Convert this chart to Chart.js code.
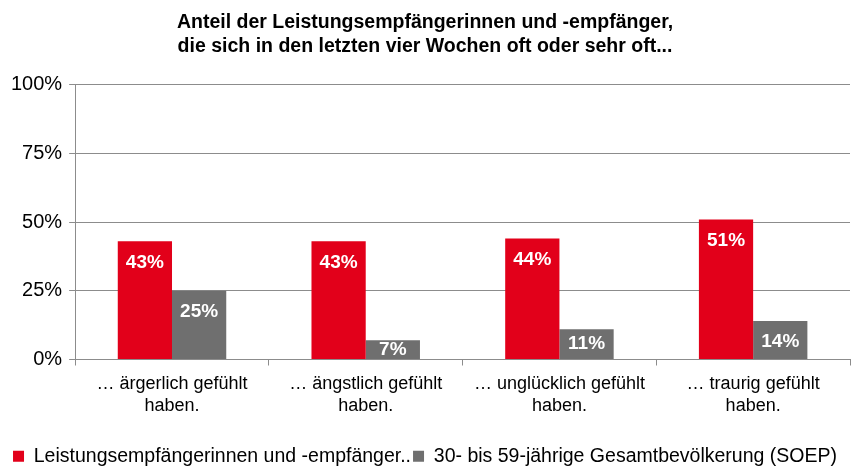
<!DOCTYPE html>
<html>
<head>
<meta charset="utf-8">
<script src="https://cdn.jsdelivr.net/npm/chart.js@4"></script>
<style>
  html, body { margin: 0; padding: 0; background: #fff; }
  #wrap { width: 853px; height: 466px; }
</style>
</head>
<body>
<div id="wrap"><canvas id="myChart"></canvas></div>
<script>
var categories = [
  ["… ärgerlich gefühlt", "haben."],
  ["… ängstlich gefühlt", "haben."],
  ["… unglücklich gefühlt", "haben."],
  ["… traurig gefühlt", "haben."]
];
var leistung = [43, 43, 44, 51];
var soep = [25, 7, 11, 14];
var yTicks = [0, 25, 50, 75, 100];

var FONT = "'Liberation Sans', Arial, sans-serif";

// white value labels inside the top of each bar (kept inside short bars)
var barLabels = {
  id: "barLabels",
  afterDatasetsDraw: function (chart) {
    var ctx = chart.ctx;
    ctx.save();
    ctx.fillStyle = "#fff";
    ctx.font = "bold 19px " + FONT;
    ctx.textAlign = "center";
    ctx.textBaseline = "middle";
    chart.data.datasets.forEach(function (ds, i) {
      chart.getDatasetMeta(i).data.forEach(function (bar, j) {
        var mid = (bar.y + bar.base) / 2;
        var y = Math.min(bar.y + 21, Math.max(bar.base - 17, mid));
        ctx.fillText(ds.data[j] + "%", bar.x, y);
      });
    });
    ctx.restore();
  }
};

var ctx = document.getElementById("myChart").getContext("2d");
var myChart = new Chart(ctx, {
  type: "bar",
  data: {
    labels: categories,
    datasets: [
      {
        label: "Leistungsempfängerinnen und -empfänger..",
        data: leistung,
        backgroundColor: "#e2001a",
        barPercentage: 1.0,
        categoryPercentage: 0.56
      },
      {
        label: "30- bis 59-jährige Gesamtbevölkerung (SOEP)",
        data: soep,
        backgroundColor: "#6f6f6f",
        barPercentage: 1.0,
        categoryPercentage: 0.56
      }
    ]
  },
  options: {
    responsive: true,
    maintainAspectRatio: false,
    animation: false,
    layout: { padding: { left: 0, right: 3, top: 0, bottom: -10 } },
    scales: {
      y: {
        min: 0,
        max: 100,
        afterBuildTicks: function (axis) {
          axis.ticks = yTicks.map(function (v) { return { value: v }; });
        },
        ticks: {
          color: "#000",
          font: { family: FONT, size: 20 },
          padding: 7,
          callback: function (v) { return v + "%"; }
        },
        grid: { color: "#8c8c8c", tickLength: 6, lineWidth: 1 },
        border: { color: "#8c8c8c" },
        afterFit: function (axis) { axis.width += 4; }
      },
      x: {
        ticks: {
          color: "#000",
          font: { family: FONT, size: 18, lineHeight: 1.25 },
          padding: 7,
          maxRotation: 0
        },
        grid: { drawOnChartArea: false, color: "#8c8c8c", tickLength: 6 },
        border: { color: "#8c8c8c" },
        afterFit: function (axis) { axis.height += 20; }
      }
    },
    plugins: {
      title: {
        display: true,
        text: ["Anteil der Leistungsempfängerinnen und -empfänger,", "die sich in den letzten vier Wochen oft oder sehr oft..."],
        color: "#000",
        font: { family: FONT, size: 19.5, weight: "bold", lineHeight: 1.25 },
        padding: { top: 10, bottom: 26 }
      },
      legend: {
        position: "bottom",
        labels: {
          color: "#000",
          font: { family: FONT, size: 19.5 },
          boxWidth: 11,
          boxHeight: 11,
          padding: 2
        }
      },
      tooltip: { enabled: false }
    }
  },
  plugins: [barLabels]
});
</script>
</body>
</html>
